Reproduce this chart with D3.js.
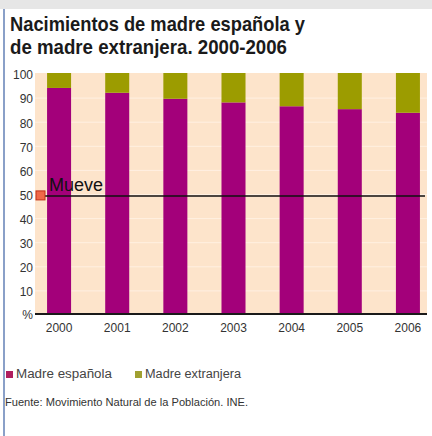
<!DOCTYPE html>
<html><head><meta charset="utf-8">
<script src="https://cdn.jsdelivr.net/npm/d3@7/dist/d3.min.js"></script>
<style>body{margin:0;background:#fff}svg{display:block}</style>
</head><body><div id="c"></div>
<script>
const years = ["2000","2001","2002","2003","2004","2005","2006"];
const espanola = [93.8, 91.8, 89.3, 87.8, 86.2, 85.0, 83.5];
const extranjera = [6.2, 8.2, 10.7, 12.2, 13.8, 15.0, 16.5];
const yTicks = [10,20,30,40,50,60,70,80,90,100];
const seriesNames = ["Madre española","Madre extranjera"];
const titleLines = ["Nacimientos de madre española y","de madre extranjera. 2000-2006"];
const sourceText = "Fuente: Movimiento Natural de la Población. INE.";
const markerValue = 49;
const markerLabel = "Mueve";

const W=432,H=436;
const colors=["#a3007a","#9c9c00"];
const legendColors=["#b01e5e","#a0a030"];
const font="'Liberation Sans',Arial,sans-serif";
const svg=d3.select("#c").append("svg").attr("width",W).attr("height",H);

// top strip and left border
svg.append("rect").attr("x",0).attr("y",0).attr("width",W).attr("height",9).attr("fill","#e6e6e6");
svg.append("rect").attr("x",3).attr("y",9).attr("width",2).attr("height",H-9).attr("fill","#8aa0c8");

// title
const titleW=[295,277];
svg.append("g").selectAll("text").data(titleLines).join("text")
  .attr("x",10).attr("y",(d,i)=>31+i*23)
  .attr("font-family",font).attr("font-weight","bold").attr("font-size",21)
  .attr("textLength",(d,i)=>titleW[i]).attr("lengthAdjust","spacingAndGlyphs")
  .attr("fill","#1a1a1a").text(d=>d);

const x=d3.scaleBand().domain(years).range([30,437]).paddingInner(0.587).paddingOuter(0.2935);
const y=d3.scaleLinear().domain([0,100]).range([314,73]);

// plot background
svg.append("rect").attr("x",35).attr("y",y(100)).attr("width",392).attr("height",y(0)-y(100)).attr("fill","#fde4cb");
svg.append("g").selectAll("line").data(yTicks.slice(0,-1)).join("line")
  .attr("x1",35).attr("x2",427).attr("y1",d=>y(d)+1).attr("y2",d=>y(d)+1)
  .attr("stroke","#fff0e2").attr("stroke-width",1);

// stacked bars
const stackData=years.map((yr,i)=>({year:yr,esp:espanola[i],ext:extranjera[i]}));
const stack=d3.stack().keys(["esp","ext"])(stackData);
svg.append("g").selectAll("g").data(stack).join("g").attr("fill",(d,i)=>colors[i])
  .selectAll("rect").data(d=>d).join("rect")
  .attr("x",d=>x(d.data.year)).attr("width",x.bandwidth())
  .attr("y",d=>y(Math.min(d[1],100))).attr("height",d=>y(d[0])-y(Math.min(d[1],100)));

// baseline
svg.append("line").attr("x1",35).attr("x2",427).attr("y1",y(0)).attr("y2",y(0)).attr("stroke","#1a1a1a").attr("stroke-width",2);

// y axis labels
const yAxis=d3.axisLeft(y).tickValues(yTicks).tickSize(0).tickPadding(0);
const ya=svg.append("g").attr("transform","translate(33,2)").call(yAxis);
ya.select(".domain").remove();
ya.selectAll("text").attr("font-family",font).attr("font-size",12).attr("fill","#333");
svg.append("text").attr("x",33).attr("y",y(0)+1).attr("dy","0.32em").attr("text-anchor","end")
  .attr("font-family",font).attr("font-size",12).attr("fill","#333").text("%");

// x axis labels
const xAxis=d3.axisBottom(x).tickSize(0).tickPadding(0);
const xa=svg.append("g").attr("transform","translate(0,323)").call(xAxis);
xa.select(".domain").remove();
xa.selectAll("text").attr("font-family",font).attr("font-size",12).attr("fill","#333");

// marker line
const my=y(markerValue);
svg.append("line").attr("x1",38).attr("x2",425).attr("y1",my).attr("y2",my).attr("stroke","#111").attr("stroke-width",1.5);
svg.append("rect").attr("x",36).attr("y",my-5).attr("width",9).attr("height",9)
  .attr("fill","#f06848").attr("stroke","#c03018").attr("stroke-width",1);
svg.append("text").attr("x",49).attr("y",my-5).attr("font-family",font)
  .attr("font-size",18).attr("fill","#111").text(markerLabel);

// legend
const legendX=[6,135], legendW=[96,96];
const lg=svg.append("g").selectAll("g").data(seriesNames).join("g")
  .attr("transform",(d,i)=>`translate(${legendX[i]},374)`);
lg.append("rect").attr("x",0).attr("y",-3).attr("width",7).attr("height",7).attr("fill",(d,i)=>legendColors[i]);
lg.append("text").attr("x",10).attr("y",0).attr("dy","0.35em").attr("font-family",font)
  .attr("font-size",12.5).attr("textLength",(d,i)=>legendW[i]).attr("lengthAdjust","spacingAndGlyphs")
  .attr("fill","#444").text(d=>d);

// source
svg.append("text").attr("x",5).attr("y",406).attr("font-family",font).attr("font-size",11)
  .attr("textLength",243).attr("lengthAdjust","spacingAndGlyphs")
  .attr("fill","#333").text(sourceText);
</script></body></html>
